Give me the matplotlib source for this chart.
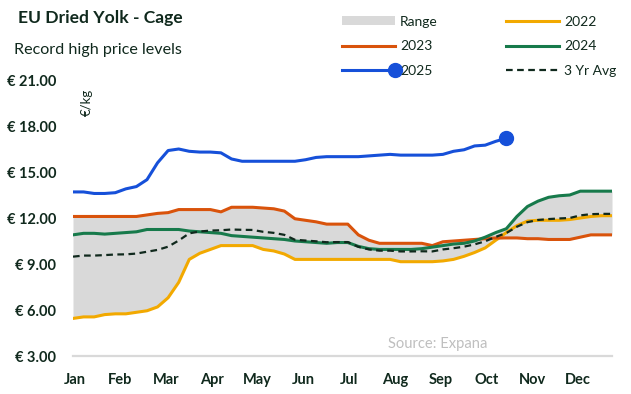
import numpy as np
import matplotlib
matplotlib.use("Agg")
import matplotlib.pyplot as plt
from matplotlib.legend_handler import HandlerLine2D
from matplotlib.patches import Patch
from matplotlib.lines import Line2D

# weekly prices, EUR/kg
months = ['Jan', 'Feb', 'Mar', 'Apr', 'May', 'Jun', 'Jul', 'Aug', 'Sep', 'Oct', 'Nov', 'Dec']

p2022 = [5.45, 5.55, 5.55, 5.7, 5.75, 5.75, 5.85, 5.95, 6.2, 6.8, 7.8, 9.3, 9.7, 9.95, 10.2, 10.2,
         10.2, 10.2, 9.95, 9.85, 9.65, 9.3, 9.3, 9.3, 9.3, 9.3, 9.3, 9.3, 9.3, 9.3, 9.3, 9.15,
         9.15, 9.15, 9.15, 9.2, 9.3, 9.5, 9.75, 10.05, 10.55, 11.05, 11.5, 11.8, 11.85, 11.85,
         11.85, 11.9, 12.0, 12.1, 12.15, 12.15]
p2023 = [12.1, 12.1, 12.1, 12.1, 12.1, 12.1, 12.1, 12.2, 12.3, 12.35, 12.55, 12.55, 12.55, 12.55,
         12.4, 12.7, 12.7, 12.7, 12.65, 12.6, 12.45, 11.95, 11.85, 11.75, 11.6, 11.6, 11.6, 10.9,
         10.55, 10.35, 10.35, 10.35, 10.35, 10.35, 10.2, 10.45, 10.5, 10.55, 10.6, 10.65, 10.7,
         10.7, 10.7, 10.65, 10.65, 10.6, 10.6, 10.6, 10.75, 10.9, 10.9, 10.9]
p2024 = [10.9, 11.0, 11.0, 10.95, 11.0, 11.05, 11.1, 11.25, 11.25, 11.25, 11.25, 11.15, 11.1, 11.05,
         11.0, 10.85, 10.8, 10.75, 10.7, 10.65, 10.6, 10.5, 10.45, 10.4, 10.35, 10.4, 10.4, 10.15,
         10.0, 9.95, 9.95, 9.95, 9.95, 10.0, 10.1, 10.2, 10.3, 10.35, 10.5, 10.75, 11.05, 11.3,
         12.1, 12.75, 13.1, 13.35, 13.45, 13.5, 13.75, 13.75, 13.75, 13.75]
p2025 = [13.7, 13.7, 13.6, 13.6, 13.65, 13.9, 14.05, 14.5, 15.6, 16.4, 16.5, 16.35, 16.3, 16.3,
         16.25, 15.85, 15.7, 15.7, 15.7, 15.7, 15.7, 15.7, 15.8, 15.95, 16.0, 16.0, 16.0, 16.0,
         16.05, 16.1, 16.15, 16.1, 16.1, 16.1, 16.1, 16.15, 16.35, 16.45, 16.7, 16.75, 17.0, 17.2]
avg3 = [9.48, 9.55, 9.55, 9.58, 9.62, 9.63, 9.68, 9.8, 9.92, 10.13, 10.53, 11.0, 11.12, 11.18,
        11.2, 11.25, 11.23, 11.22, 11.1, 11.03, 10.9, 10.58, 10.53, 10.48, 10.42, 10.43, 10.43,
        10.12, 9.95, 9.87, 9.87, 9.82, 9.82, 9.83, 9.82, 9.95, 10.03, 10.13, 10.28, 10.48, 10.77,
        11.02, 11.43, 11.73, 11.87, 11.93, 11.97, 12.0, 12.17, 12.25, 12.27, 12.27]

TXT = '#10291d'
C22, C23, C24, C25 = '#F2A900', '#D9530B', '#177A4B', '#1650D9'
FONT = ['Lato', 'DejaVu Sans']


class EndMarkerHandler(HandlerLine2D):
    # marker at the right end of the legend line
    def create_artists(self, *args, **kwargs):
        arts = super().create_artists(*args, **kwargs)
        arts[0].set_markevery([2])
        return arts


plt.rcParams['font.family'] = FONT
fig = plt.figure(figsize=(6.31, 3.94), dpi=100)
ax = fig.add_axes([73 / 631, 38 / 394, 539 / 631, 276 / 394])

weeks = np.arange(len(p2022))
lo = np.minimum.reduce([p2022, p2023, p2024])
hi = np.maximum.reduce([p2022, p2023, p2024])
ax.fill_between(weeks, lo, hi, color='#D9D9D9', lw=0, zorder=1)
ax.plot(weeks, p2022, color=C22, lw=2.2, zorder=3)
ax.plot(weeks, p2023, color=C23, lw=2.2, zorder=3)
ax.plot(weeks, p2024, color=C24, lw=2.2, zorder=3)
ax.plot(weeks, avg3, color=TXT, lw=1.6, ls=(0, (3, 2)), zorder=4)
w25 = np.arange(len(p2025))
ax.plot(w25, p2025, color=C25, lw=2.2, zorder=5)
ax.plot(w25[-1], p2025[-1], 'o', color=C25, ms=10, zorder=6)

ax.set_xlim(0, len(p2022) - 1)
ax.set_ylim(3, 21)
ax.set_yticks(np.arange(3, 22, 3))
ax.set_yticklabels([f'€ {v:.2f}' for v in np.arange(3, 22, 3)])
ax.set_xticks(np.arange(12) * 52 / 12 + 0.15)
ax.set_xticklabels(months)
ax.tick_params(length=0, labelsize=10.5, colors=TXT)
ax.tick_params(axis='y', pad=12)
ax.tick_params(axis='x', pad=12)
for lab in ax.get_xticklabels() + ax.get_yticklabels():
    lab.set_fontweight('bold')
for s in ['top', 'right', 'left']:
    ax.spines[s].set_visible(False)
ax.spines['bottom'].set_color('#D9D9D9')
ax.spines['bottom'].set_linewidth(1.6)

fig.text(18 / 631, 1 - 18 / 394, 'EU Dried Yolk - Cage', fontsize=12.6, fontweight='bold',
         color=TXT, va='center')
fig.text(14 / 631, 1 - 50 / 394, 'Record high price levels', fontsize=11.6, color=TXT, va='center')
fig.text(87 / 631, 1 - 102 / 394, '€/kg', fontsize=9.5, color=TXT, rotation=90,
         ha='center', va='center')
fig.text(438 / 631, 1 - 344 / 394, 'Source: Expana', fontsize=10.6, color='#BFBFBF',
         ha='center', va='center')

h_range = Patch(facecolor='#D9D9D9', edgecolor='none')
h22 = Line2D([], [], color=C22, lw=2.2)
h23 = Line2D([], [], color=C23, lw=2.2)
h24 = Line2D([], [], color=C24, lw=2.2)
h25 = Line2D([], [], color=C25, lw=2.2, marker='o', ms=10)
havg = Line2D([], [], color=TXT, lw=1.6, ls=(0, (3, 2)))
leg = fig.legend([h_range, h23, h25, h22, h24, havg],
                 ['Range', '2023', '2025', '2022', '2024', '3 Yr Avg'],
                 ncol=2, loc='upper right', bbox_to_anchor=(629 / 631, 1 - 3 / 394),
                 frameon=False, fontsize=10, handlelength=3.8, handleheight=0.6,
                 handletextpad=0.4, columnspacing=4.9, labelspacing=0.92,
                 handler_map={h25: EndMarkerHandler()})
for t in leg.get_texts():
    t.set_color(TXT)

fig.savefig('out.png', dpi=100)
